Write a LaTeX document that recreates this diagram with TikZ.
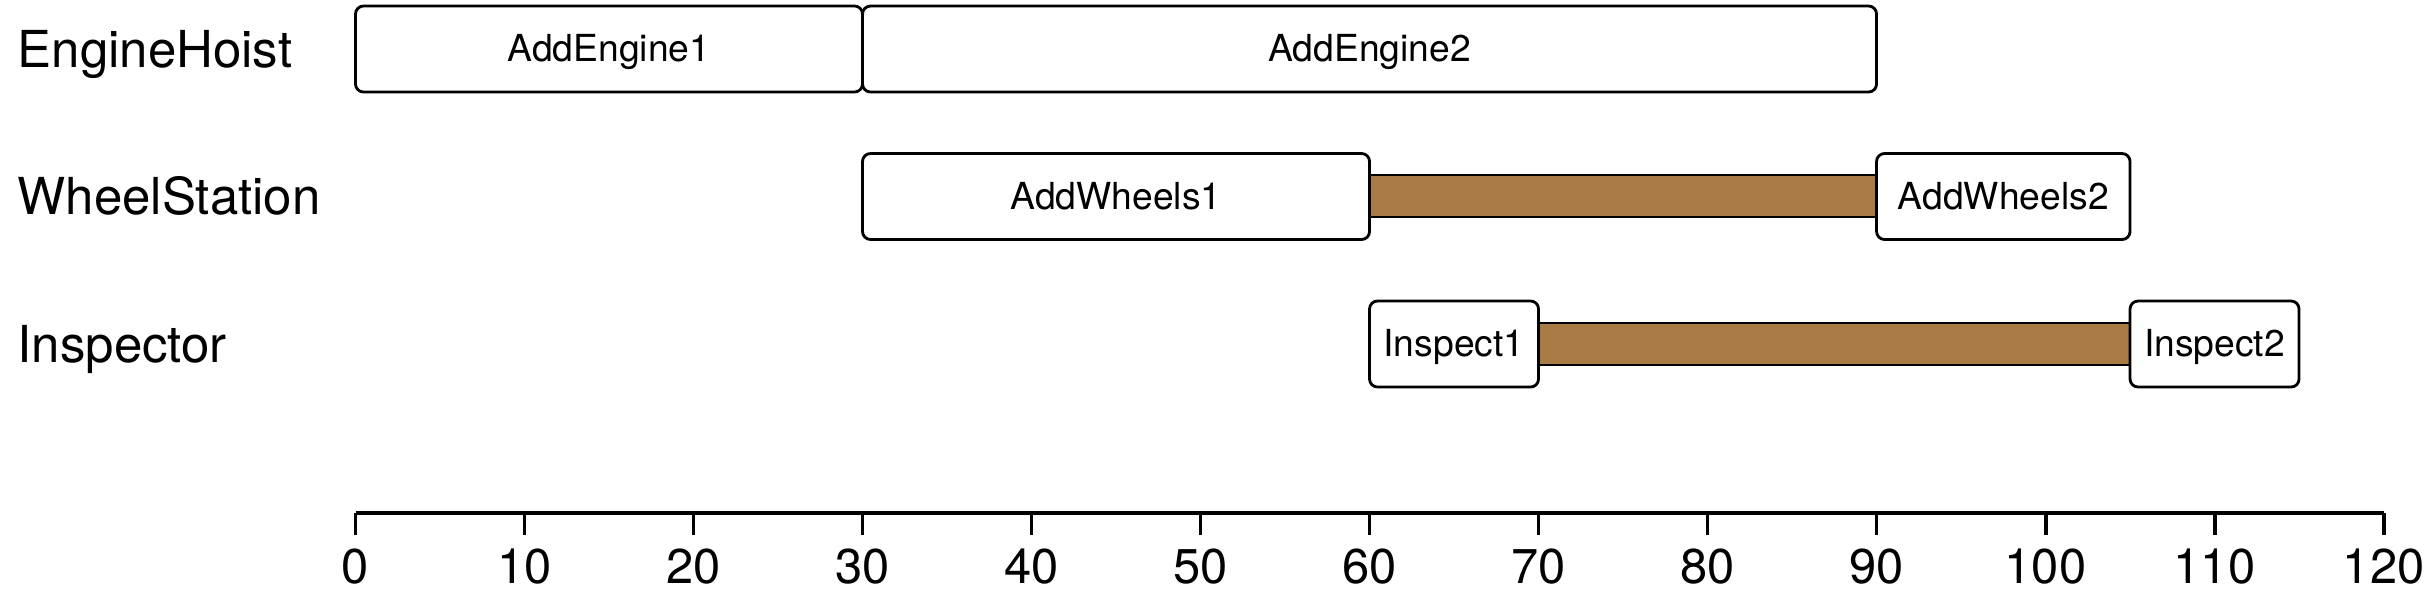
\documentclass[tikz,border=0pt]{standalone}
\usepackage{fontspec}
\setmainfont{TeX Gyre Heros}
\usetikzlibrary{positioning}
\definecolor{waitbrown}{RGB}{168,123,68}

\tikzset{
  task/.style={draw, line width=0.8pt, rounded corners=0.08cm, fill=white,
    inner sep=0pt, outer sep=0pt, minimum height=0.86cm,
    text height=0.72em, text depth=0pt, font=\fontsize{10.6}{12}\selectfont},
  wait/.style={draw, line width=0.8pt, fill=waitbrown},
  rowlabel/.style={anchor=base west, inner sep=0pt, font=\fontsize{14.5}{17}\selectfont},
  ticklabel/.style={anchor=base, inner sep=0pt, font=\fontsize{13.9}{16}\selectfont}
}

\begin{document}
\begin{tikzpicture}
  \useasboundingbox (0,0) rectangle (24.35,-6.11);

  % Resource names
  \node[rowlabel] (hoist) at (0.17,-0.67) {EngineHoist};
  \node[rowlabel] (wheel) at (0.17,-2.14) {WheelStation};
  \node[rowlabel] (insp) at (0.17,-3.62) {Inspector};

  \begin{scope}[xshift=3.555cm, x=0.169cm]
    % Idle bars
    \coordinate (wt1) at (60,-1.75);
    \coordinate (wb1) at (90,-2.17);
    \coordinate (wt2) at (70,-3.23);
    \coordinate (wb2) at (105,-3.65);
    \draw[wait] (wt1) rectangle (wb1);
    \draw[wait] (wt2) rectangle (wb2);

    % EngineHoist tasks
    \node[task, minimum width=30*0.169cm] (ae1) at (15,-0.49) {AddEngine1};
    \node[task, minimum width=60*0.169cm] (ae2) at (60,-0.49) {AddEngine2};

    % WheelStation tasks
    \node[task, minimum width=30*0.169cm] (aw1) at (45,-1.965) {AddWheels1};
    \node[task, minimum width=15*0.169cm] (aw2) at (97.5,-1.965) {AddWheels2};

    % Inspector tasks
    \node[task, minimum width=10*0.169cm] (in1) at (65,-3.44) {Inspect1};
    \node[task, minimum width=10*0.169cm] (in2) at (110,-3.44) {Inspect2};

    % Time axis
    \draw[line width=1.2pt] (0,-5.13) -- (120,-5.13);
    \foreach \t in {0,10,...,120} {
      \draw[line width=1.1pt] (\t,-5.13) -- (\t,-5.35);
      \node[ticklabel] (tick\t) at (\t,-5.83) {\t};
    }
  \end{scope}
\end{tikzpicture}
\end{document}
